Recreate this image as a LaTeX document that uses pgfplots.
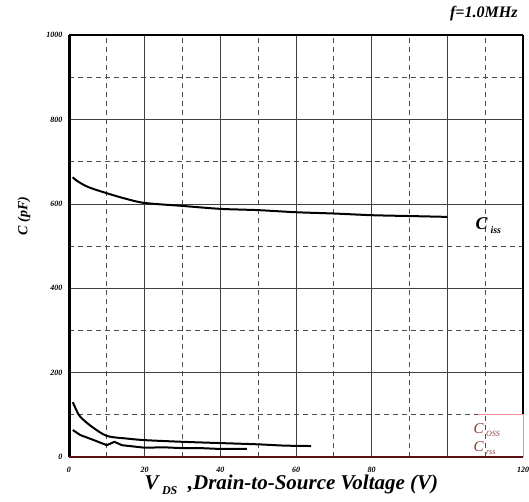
\documentclass[border=0pt]{standalone}
\usepackage{pgfplots}
\pgfplotsset{compat=1.18}
\usepackage{fontspec}
\setmainfont{Liberation Serif}
\definecolor{darkred}{HTML}{5A1010}
\definecolor{lbl}{HTML}{8A3A3A}
\begin{document}
\begin{tikzpicture}[x=1pt,y=1pt]
\useasboundingbox (0,0) rectangle (529,501);
\begin{axis}[
  at={(69pt,44pt)}, anchor=south west,
  scale only axis, width=454pt, height=422pt,
  xmin=0, xmax=120, ymin=0, ymax=1000,
  xtick={0,20,40,60,80,100,120},
  xticklabels={0,20,40,60,80,,120},
  minor xtick={10,30,50,70,90,110},
  ytick={0,200,400,600,800,1000},
  minor ytick={100,300,500,700,900},
  grid=both,
  major grid style={black!75, line width=0.6pt},
  minor grid style={black!70, dashed, line width=0.7pt, dash pattern=on 5pt off 4pt},
  axis line style={draw=none},
  tick style={draw=none},
  ticklabel style={font=\fontsize{8}{9}\selectfont\bfseries\itshape},
  /pgf/number format/assume math mode=true,
  /pgf/number format/1000 sep={},
  yticklabel style={xshift=-3pt},
  xticklabel style={yshift=-7pt},
  clip=false,
]
% borders
\draw[black, line width=3pt] (axis cs:0,0) -- (axis cs:0,1000);
\draw[black, line width=2pt] (axis cs:0,1000) -- (axis cs:120,1000);
\draw[black, line width=2.5pt] (axis cs:120,1000) -- (axis cs:120,100);
\draw[darkred, line width=2pt] (axis cs:0,0) -- (axis cs:120,0);
\draw[red!45, line width=0.8pt] (axis cs:108,100) -- (axis cs:120,100) -- (axis cs:120,0);
% Ciss
\addplot[black, line width=2pt, smooth] coordinates {
 (1,663) (2,655) (5,640) (10,625) (15,612) (20,602) (30,595) (40,588)
 (50,585) (60,580) (70,577) (80,573) (90,571) (100,569)};
% Coss
\addplot[black, line width=2pt, smooth] coordinates {
 (1,130) (2,110) (3,95) (6,72) (10,50) (15,44) (20,40) (30,36)
 (40,33) (50,30) (57,27) (64,26)};
% Crss
\addplot[black, line width=2pt] coordinates {
 (1,64) (3,52) (6,42) (10,28) (12,36) (14,28) (20,22) (25,23) (30,21)
 (35,21) (40,19) (47,19)};
\end{axis}
% labels
\node[font=\fontsize{16}{18}\selectfont\bfseries\itshape, anchor=east] at (521,487) {f=1.0MHz};
\node[font=\fontsize{14}{16}\selectfont\bfseries\itshape, rotate=90] at (24,285) {C (pF)};
\node[font=\fontsize{18}{22}\selectfont\bfseries\itshape, anchor=west] at (472,275) {C\,\raisebox{-4pt}{\fontsize{10}{11}\selectfont iss}};
\node[font=\fontsize{15}{16}\selectfont\itshape, text=lbl, anchor=west] at (470,71) {C\,\raisebox{-3pt}{\fontsize{8}{9}\selectfont OSS}};
\node[font=\fontsize{15}{16}\selectfont\itshape, text=lbl, anchor=west] at (470,53) {C\,\raisebox{-3pt}{\fontsize{8}{9}\selectfont rss}};
\node[font=\fontsize{21}{23}\selectfont\bfseries\itshape, anchor=west] at (141,16) {V\,\raisebox{-5pt}{\fontsize{12}{13}\selectfont DS}\ \ ,Drain-to-Source Voltage (V)};
\end{tikzpicture}
\end{document}
